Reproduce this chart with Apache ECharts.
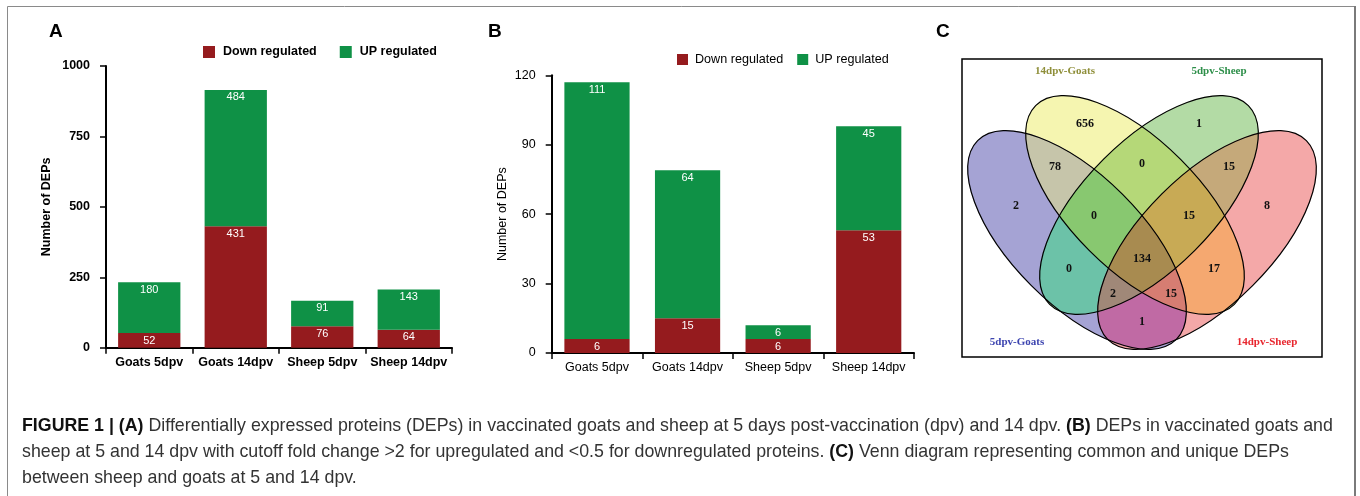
<!DOCTYPE html>
<html>
<head>
<meta charset="utf-8">
<script src="https://cdn.jsdelivr.net/npm/echarts@6/dist/echarts.min.js"></script>
<style>
html, body { margin: 0; padding: 0; background: #fff; }
#main { width: 1360px; height: 496px; }
</style>
</head>
<body>
<div id="main"></div>
<script>
// ---- data ----
const categories = ['Goats 5dpv', 'Goats 14dpv', 'Sheep 5dpv', 'Sheep 14dpv'];
const downA = [52, 431, 76, 64];
const upA = [180, 484, 91, 143];
const downB = [6, 15, 6, 53];
const upB = [111, 64, 6, 45];
const ticksA = [0, 1000, 250];   // min, max, interval
const ticksB = [0, 120, 30];

const vennSetNames = ['5dpv-Goats', '14dpv-Goats', '5dpv-Sheep', '14dpv-Sheep'];
// A = 5dpv-Goats, B = 14dpv-Goats, C = 5dpv-Sheep, D = 14dpv-Sheep
const vennRegions = ['B', 'C', 'A', 'D', 'AB', 'BC', 'CD', 'ABC', 'BCD', 'ABCD', 'AC', 'BD', 'ACD', 'ABD', 'AD'];
const vennCounts = [656, 1, 2, 8, 78, 0, 15, 0, 15, 134, 0, 17, 2, 15, 1];

// ---- venn layout (units = px inside the venn box, y down) ----
const vennEllipses = [[115, 181], [173, 146], [187, 146], [245, 181]];
const vennAngles = [-45, -45, 45, 45];
const vennAxes = [140.5, 64.5];
const vennLabelPos = [[123, 65], [237, 65], [54, 147], [305, 147], [93, 108], [180, 105], [267, 108],
  [132, 157], [227, 157], [180, 200], [107, 210], [252, 210], [151, 235], [209, 235], [180, 263]];
const vennNamePos = [[55, 283], [103, 12], [257, 12], [305, 283]];
const vennRegionColor = ['#f5f5b0', '#b3dba5', '#a5a3d4', '#f4a8a8', '#c6c5aa', '#b5d878', '#c5a97a',
  '#88c870', '#c8aa55', '#a88b50', '#6cc2a8', '#f5a870', '#a08878', '#d67d72', '#c06aa4'];
const vennNameColor = ['#3d45b0', '#8f8f3a', '#2e8f4a', '#e8262e'];

const RED = '#951b1e';
const GREEN = '#0f9146';
const SANS = 'Liberation Sans, Arial, sans-serif';
const SERIF = 'Liberation Serif, Times New Roman, serif';

// ---- venn geometry helpers ----
function ellipsePoly(i) {
    var c = vennEllipses[i], r = vennAngles[i] * Math.PI / 180;
    var ux = Math.cos(r), uy = -Math.sin(r), vx = Math.sin(r), vy = Math.cos(r);
    var pts = [];
    for (var k = 0; k < 240; k++) {
        var t = k / 240 * Math.PI * 2;
        var ca = vennAxes[0] * Math.cos(t), sb = vennAxes[1] * Math.sin(t);
        pts.push([c[0] + ca * ux + sb * vx, c[1] + ca * uy + sb * vy]);
    }
    return pts;
}
function signedArea(p) {
    var s = 0;
    for (var i = 0; i < p.length; i++) {
        var q = p[(i + 1) % p.length];
        s += p[i][0] * q[1] - q[0] * p[i][1];
    }
    return s;
}
function clipPoly(subject, clip) {
    var out = subject, area = signedArea(clip);
    for (var i = 0; i < clip.length && out.length; i++) {
        var a = clip[i], b = clip[(i + 1) % clip.length];
        var dx = b[0] - a[0], dy = b[1] - a[1];
        var inside = function (p) { return (dx * (p[1] - a[1]) - dy * (p[0] - a[0])) * area >= 0; };
        var inp = out; out = [];
        for (var j = 0; j < inp.length; j++) {
            var p = inp[j], q = inp[(j + 1) % inp.length];
            var ip = inside(p), iq = inside(q);
            if (ip) out.push(p);
            if (ip !== iq) {
                var ex = q[0] - p[0], ey = q[1] - p[1];
                var t = (dx * (a[1] - p[1]) - dy * (a[0] - p[0])) / (dx * ey - dy * ex);
                out.push([p[0] + t * ex, p[1] + t * ey]);
            }
        }
    }
    return out;
}
var setPolys = [0, 1, 2, 3].map(ellipsePoly);
var regionPolys = vennRegions.map(function (m) {
    var idx = m.split('').map(function (ch) { return 'ABCD'.indexOf(ch); });
    var poly = setPolys[idx[0]];
    for (var k = 1; k < idx.length; k++) poly = clipPoly(poly, setPolys[idx[k]]);
    return poly;
});
// paint smaller memberships first so each point ends with its exact region colour
var paintOrder = vennRegions.map(function (m, i) { return i; })
    .sort(function (a, b) { return vennRegions[a].length - vennRegions[b].length; });

var chart = echarts.init(document.getElementById('main'), null, { renderer: 'canvas' });

function barAxes(idx, bold, ticks, nameGap, labelSize) {
    var w = bold ? 'bold' : 'normal';
    return {
        x: {
            type: 'category', gridIndex: idx, data: categories,
            axisLine: { lineStyle: { color: '#000', width: 2 } },
            axisTick: { show: true, length: 6, alignWithLabel: false, interval: 0, lineStyle: { color: '#000', width: 1.5 } },
            axisLabel: { color: '#000', fontWeight: w, fontSize: labelSize, fontFamily: SANS, margin: 8, interval: 0 },
            splitLine: { show: false }
        },
        y: {
            type: 'value', gridIndex: idx, min: ticks[0], max: ticks[1], interval: ticks[2],
            name: 'Number of DEPs', nameLocation: 'middle', nameGap: nameGap,
            nameTextStyle: { color: '#000', fontWeight: w, fontSize: 12.5, fontFamily: SANS },
            axisLine: { show: true, lineStyle: { color: '#000', width: 2 } },
            axisTick: { show: true, length: 6, lineStyle: { color: '#000', width: 1.5 } },
            axisLabel: { color: '#000', fontWeight: w, fontSize: labelSize, fontFamily: SANS, margin: 16,
                formatter: function (v) { return String(v); } },
            splitLine: { show: false }
        }
    };
}

var axA = barAxes(0, true, ticksA, 53, 12.5);
var axB = barAxes(1, false, ticksB, 43, 12.5);

function barSeries(name, data, color, idx) {
    return {
        name: name, type: 'bar', stack: 'dep' + idx, data: data,
        xAxisIndex: idx, yAxisIndex: idx, barWidth: '72%',
        itemStyle: { color: color },
        label: { show: true, position: 'insideTop', distance: 2, color: '#fff', fontSize: 11, fontFamily: SANS },
        emphasis: { disabled: true }
    };
}

var option = {
    animation: false,
    backgroundColor: '#fff',
    grid: [
        { left: 106, top: 66, width: 346, height: 281.7 },
        { left: 551.7, top: 75.3, width: 362.3, height: 277.7 },
        { left: 962, top: 59, width: 360, height: 298, show: true, borderColor: '#000', borderWidth: 1.5, backgroundColor: 'transparent' }
    ],
    xAxis: [axA.x, axB.x, { type: 'value', gridIndex: 2, min: 0, max: 360, show: false }],
    yAxis: [axA.y, axB.y, { type: 'value', gridIndex: 2, min: 0, max: 298, inverse: true, show: false }],
    legend: [
        {
            data: ['Down regulated', 'UP regulated'], left: 203, top: 45.5, icon: 'rect', padding: 0,
            itemWidth: 12, itemHeight: 12, itemGap: 23,
            textStyle: { color: '#000', fontWeight: 'bold', fontSize: 12.5, fontFamily: SANS, padding: [0, 0, 0, 3] }
        },
        {
            data: ['Down regulated', 'UP regulated'], left: 677, top: 53, icon: 'rect', padding: 0,
            itemWidth: 11, itemHeight: 11, itemGap: 14,
            textStyle: { color: '#000', fontSize: 12.6, fontFamily: SANS, padding: [0, 0, 0, 2] }
        }
    ],
    series: [
        barSeries('Down regulated', downA, RED, 0),
        barSeries('UP regulated', upA, GREEN, 0),
        barSeries('Down regulated', downB, RED, 1),
        barSeries('UP regulated', upB, GREEN, 1),
        {
            // venn region fills
            type: 'custom', xAxisIndex: 2, yAxisIndex: 2, clip: false, silent: true,
            data: paintOrder.map(function (i) { return [vennLabelPos[i][0], vennLabelPos[i][1], i]; }),
            renderItem: function (params, api) {
                var i = api.value(2);
                return {
                    type: 'polygon',
                    shape: { points: regionPolys[i].map(function (p) { return api.coord(p); }) },
                    style: { fill: vennRegionColor[i], stroke: vennRegionColor[i], lineWidth: 0.5 }
                };
            }
        },
        {
            // venn outlines
            type: 'custom', xAxisIndex: 2, yAxisIndex: 2, clip: false, silent: true,
            data: vennEllipses.map(function (e, i) { return [e[0], e[1], i]; }),
            renderItem: function (params, api) {
                var i = api.value(2);
                var c = api.coord([api.value(0), api.value(1)]);
                var r = api.size([vennAxes[0], vennAxes[1]]);
                return {
                    type: 'ellipse', x: c[0], y: c[1], rotation: vennAngles[i] * Math.PI / 180,
                    shape: { cx: 0, cy: 0, rx: Math.abs(r[0]), ry: Math.abs(r[1]) },
                    style: { fill: 'none', stroke: '#000', lineWidth: 1.2 }
                };
            }
        },
        {
            // venn region counts
            type: 'custom', xAxisIndex: 2, yAxisIndex: 2, clip: false, silent: true,
            data: vennLabelPos.map(function (p, i) { return [p[0], p[1], vennCounts[i]]; }),
            renderItem: function (params, api) {
                var c = api.coord([api.value(0), api.value(1)]);
                return {
                    type: 'text', x: c[0], y: c[1],
                    style: {
                        text: String(api.value(2)), fill: '#111', fontSize: 12, fontWeight: 'bold', fontFamily: SERIF,
                        align: 'center', verticalAlign: 'middle', textAlign: 'center', textVerticalAlign: 'middle'
                    }
                };
            }
        },
        {
            // venn set names
            type: 'custom', xAxisIndex: 2, yAxisIndex: 2, clip: false, silent: true,
            data: vennNamePos.map(function (p, i) { return [p[0], p[1], i]; }),
            renderItem: function (params, api) {
                var i = api.value(2);
                var c = api.coord([api.value(0), api.value(1)]);
                return {
                    type: 'text', x: c[0], y: c[1],
                    style: {
                        text: vennSetNames[i], fill: vennNameColor[i], fontSize: 11, fontWeight: 'bold', fontFamily: SERIF,
                        align: 'center', verticalAlign: 'middle', textAlign: 'center', textVerticalAlign: 'middle'
                    }
                };
            }
        }
    ],
    graphic: [
        { type: 'polyline', shape: { points: [[7.5, 496], [7.5, 6.5], [1355, 6.5]] }, style: { stroke: '#8a8a8a', lineWidth: 1, fill: 'none' } },
        { type: 'line', shape: { x1: 1355, y1: 6, x2: 1355, y2: 496 }, style: { stroke: '#7a7a7a', lineWidth: 2 } },
        { type: 'text', x: 49, y: 32, style: { text: 'A', fontSize: 19, fontWeight: 'bold', fontFamily: SANS, fill: '#000', verticalAlign: 'middle' } },
        { type: 'text', x: 488, y: 32, style: { text: 'B', fontSize: 19, fontWeight: 'bold', fontFamily: SANS, fill: '#000', verticalAlign: 'middle' } },
        { type: 'text', x: 936, y: 32, style: { text: 'C', fontSize: 19, fontWeight: 'bold', fontFamily: SANS, fill: '#000', verticalAlign: 'middle' } },
        {
            type: 'text', x: 22, y: 426,
            style: {
                text: '{b|FIGURE 1 | (A)} Differentially expressed proteins (DEPs) in vaccinated goats and sheep at 5 days post-vaccination (dpv) and 14 dpv. {b|(B)} DEPs in vaccinated goats and',
                fontSize: 17.8, fontFamily: SANS, fill: '#333', verticalAlign: 'middle',
                rich: { b: { fontSize: 17.8, fontFamily: SANS, fontWeight: 'bold', fill: '#111' } }
            }
        },
        {
            type: 'text', x: 22, y: 452,
            style: {
                text: 'sheep at 5 and 14 dpv with cutoff fold change >2 for upregulated and <0.5 for downregulated proteins. {b|(C)} Venn diagram representing common and unique DEPs',
                fontSize: 17.8, fontFamily: SANS, fill: '#333', verticalAlign: 'middle',
                rich: { b: { fontSize: 17.8, fontFamily: SANS, fontWeight: 'bold', fill: '#111' } }
            }
        },
        {
            type: 'text', x: 22, y: 478,
            style: { text: 'between sheep and goats at 5 and 14 dpv.', fontSize: 17.8, fontFamily: SANS, fill: '#333', verticalAlign: 'middle' }
        }
    ]
};

chart.setOption(option);
</script>
</body>
</html>
